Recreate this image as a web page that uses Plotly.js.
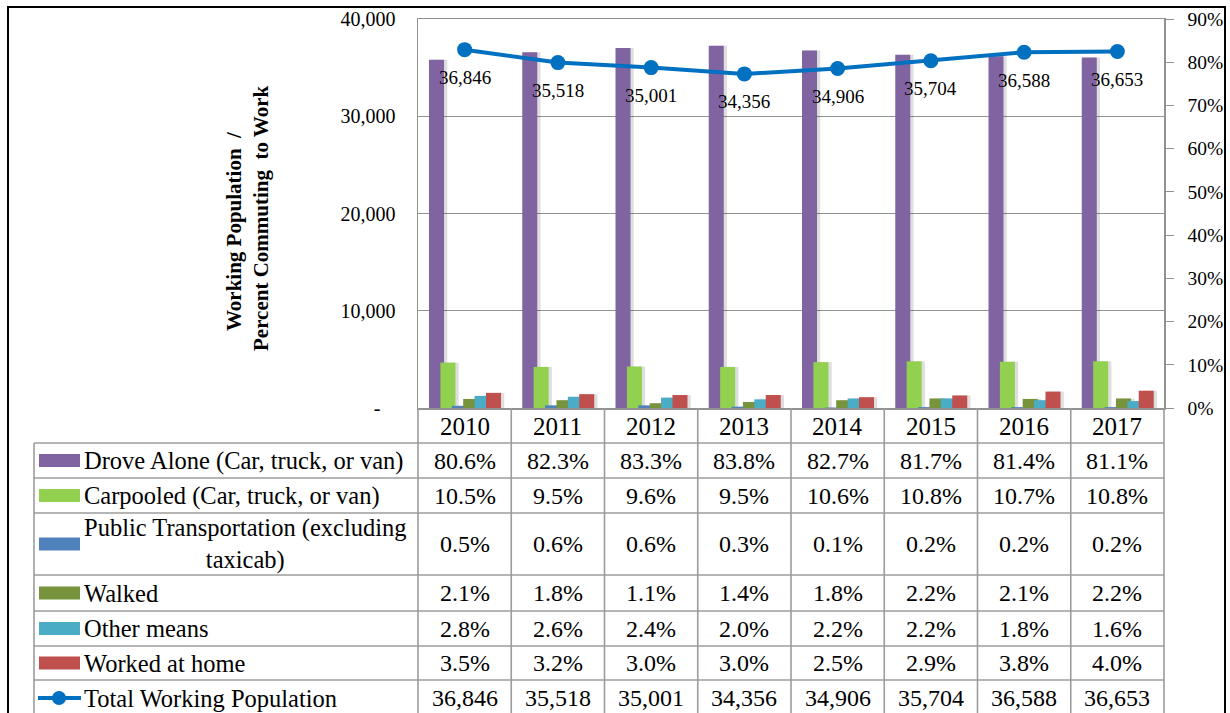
<!DOCTYPE html>
<html>
<head>
<meta charset="utf-8">
<script src="https://cdn.plot.ly/plotly-3.0.1.min.js"></script>
<style>
html,body{margin:0;padding:0;background:#fff;}
#chart{width:1230px;height:713px;}
</style>
</head>
<body>
<div id="chart"></div>
<script>
// ---------- DATA ----------
var years = ['2010','2011','2012','2013','2014','2015','2016','2017'];
var droveAlone = [80.6, 82.3, 83.3, 83.8, 82.7, 81.7, 81.4, 81.1];
var carpooled = [10.5, 9.5, 9.6, 9.5, 10.6, 10.8, 10.7, 10.8];
var publicTransit = [0.5, 0.6, 0.6, 0.3, 0.1, 0.2, 0.2, 0.2];
var walked = [2.1, 1.8, 1.1, 1.4, 1.8, 2.2, 2.1, 2.2];
var otherMeans = [2.8, 2.6, 2.4, 2.0, 2.2, 2.2, 1.8, 1.6];
var workedHome = [3.5, 3.2, 3.0, 3.0, 2.5, 2.9, 3.8, 4.0];
var totalPop = [36846, 35518, 35001, 34356, 34906, 35704, 36588, 36653];

var seriesNames = ['Drove Alone (Car, truck, or van)', 'Carpooled (Car, truck, or van)',
  'Public Transportation (excluding<br>taxicab)', 'Walked', 'Other means', 'Worked at home'];
var lineName = 'Total Working Population';
var leftTickVals = [0, 10000, 20000, 30000, 40000];
var leftTickText = ['-\u00a0\u00a0\u00a0', '10,000', '20,000', '30,000', '40,000'];
var yTitle = 'Working Population  /&nbsp;&nbsp;&nbsp;&nbsp;&nbsp;<br>Percent Commuting  to Work';

// ---------- STYLE / GEOMETRY ----------
var barSeries = [droveAlone, carpooled, publicTransit, walked, otherMeans, workedHome];
var barColors = ['#8064A2', '#92D050', '#4F81BD', '#77933C', '#4BACC6', '#C0504D'];
var lineColor = '#0070C0';
var FONT = '"Liberation Serif", Tinos, "Times New Roman", "DejaVu Serif", serif';
var gridCol = '#929292';
var tableCol = '#9c9c9c';

var PL = 418, PR = 1164, PT = 19, PB = 408, W = 1230, H = 713;
function px(x){ return (x - PL) / (PR - PL); }
function py(y){ return (PB - y) / (PB - PT); }

var barW = 0.161, barStep = 0.1222, barStart = -0.382;

var traces = [];
barSeries.forEach(function(vals, i){
  traces.push({
    type: 'bar', x: years, y: vals, yaxis: 'y', xaxis: 'x',
    width: barW, offset: barStart + i*barStep + 0.035,
    marker: {color: 'rgba(0,0,0,0.13)', line: {width: 0}},
    hoverinfo: 'skip', showlegend: false
  });
  traces.push({
    type: 'bar', x: years, y: vals, yaxis: 'y', xaxis: 'x',
    name: seriesNames[i],
    width: barW, offset: barStart + i*barStep,
    marker: {color: barColors[i], line: {width: 0}},
    showlegend: false
  });
});
traces.push({
  type: 'scatter', mode: 'lines+markers', x: years, y: totalPop,
  xaxis: 'x', yaxis: 'y2', name: lineName,
  line: {color: lineColor, width: 4},
  marker: {color: lineColor, size: 15},
  showlegend: false
});

var shapes = [];
var annotations = [];

shapes.push({type:'rect', xref:'paper', yref:'paper', x0:px(8), x1:px(1225), y0:py(7), y1:py(730),
  line:{color:'#000', width:2}, fillcolor:'rgba(0,0,0,0)'});

var rowEdges = [443, 478, 513, 575, 611, 646, 680, 718];
var tableLeft = 34;
rowEdges.slice(0, 7).forEach(function(y){
  shapes.push({type:'line', xref:'paper', yref:'paper', x0:px(tableLeft), x1:px(PR), y0:py(y), y1:py(y),
    line:{color:tableCol, width:1.6}});
});
shapes.push({type:'line', xref:'paper', yref:'paper', x0:px(tableLeft), x1:px(tableLeft), y0:py(443), y1:py(730),
  line:{color:tableCol, width:1.6}});
for (var k = 0; k <= years.length; k++) {
  var xx = PL + k * (PR - PL) / years.length;
  shapes.push({type:'line', xref:'paper', yref:'paper', x0:px(xx), x1:px(xx), y0:py(PB), y1:py(730),
    line:{color:tableCol, width:1.6}});
}

years.forEach(function(yr, i){
  annotations.push({xref:'x', yref:'paper', x:i, y:py(426), text:yr, showarrow:false,
    xanchor:'center', yanchor:'middle', font:{family:FONT, size:25, color:'#000'}});
});

var rowData = barSeries.concat([totalPop]);
var rowLabels = seriesNames.concat([lineName]);
rowData.forEach(function(vals, r){
  var yc = (rowEdges[r] + rowEdges[r+1]) / 2;
  if (r === 6) yc = 698;
  if (r < 6) {
    shapes.push({type:'rect', xref:'paper', yref:'paper', x0:px(39), x1:px(80), y0:py(yc-6.5), y1:py(yc+6.5),
      fillcolor:barColors[r], line:{width:0}});
  } else {
    shapes.push({type:'line', xref:'paper', yref:'paper', x0:px(38), x1:px(81), y0:py(yc), y1:py(yc),
      line:{color:lineColor, width:4}});
    shapes.push({type:'circle', xref:'paper', yref:'paper', x0:px(52), x1:px(66), y0:py(yc-7), y1:py(yc+7),
      fillcolor:lineColor, line:{width:0}});
  }
  annotations.push({xref:'paper', yref:'paper', x:px(82), y:py(yc), text:rowLabels[r], showarrow:false,
    xanchor:'left', yanchor:'middle', align:'center', font:{family:FONT, size:24.5, color:'#000'}});
  vals.forEach(function(v, i){
    var txt = r < 6 ? v.toFixed(1) + '%' : v.toLocaleString('en-US');
    annotations.push({xref:'x', yref:'paper', x:i, y:py(yc), text:txt, showarrow:false,
      xanchor:'center', yanchor:'middle', font:{family:FONT, size:24, color:'#000'}});
  });
});

totalPop.forEach(function(v, i){
  annotations.push({xref:'x', yref:'y2', x:i, y:v, yshift:-28, text:v.toLocaleString('en-US'),
    showarrow:false, xanchor:'center', yanchor:'middle', font:{family:FONT, size:19, color:'#000'}});
});

annotations.push({xref:'paper', yref:'paper', x:px(247), y:py(218), text:yTitle, textangle:-90,
  showarrow:false, xanchor:'center', yanchor:'middle', align:'center',
  font:{family:FONT, size:21, color:'#000', weight:'bold'}});

var layout = {
  width: W, height: H,
  margin: {l: PL, r: W - PR, t: PT, b: H - PB, pad: 0},
  paper_bgcolor: '#fff', plot_bgcolor: '#fff',
  barmode: 'overlay',
  showlegend: false,
  font: {family: FONT},
  xaxis: {type:'category', showticklabels:false, ticks:'', showgrid:false, zeroline:false,
    showline:true, mirror:true, linecolor:gridCol, linewidth:1.5, range:[-0.5, 7.5]},
  yaxis: {side:'right', range:[0, 90], dtick:10, ticksuffix:'%', showgrid:false, zeroline:false,
    showline:true, linecolor:gridCol, linewidth:1.5, ticks:'outside', ticklen:8, tickcolor:gridCol,
    ticklabelstandoff: 10, tickfont:{family:FONT, size:19.5, color:'#000'}},
  yaxis2: {overlaying:'y', side:'left', range:[0, 40000], tickmode:'array', tickvals:leftTickVals,
    ticktext:leftTickText, showgrid:true, gridcolor:gridCol, gridwidth:1.3, zeroline:false,
    showline:true, linecolor:gridCol, linewidth:1.5, ticks:'', ticklabelstandoff: 17,
    tickfont:{family:FONT, size:20, color:'#000'}},
  shapes: shapes,
  annotations: annotations
};

Plotly.newPlot('chart', traces, layout, {displayModeBar:false, staticPlot:true});
</script>
</body>
</html>
